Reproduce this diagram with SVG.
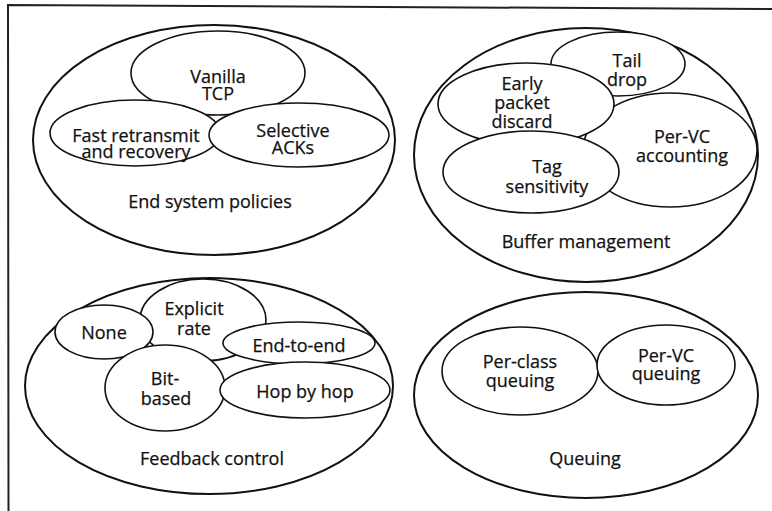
<svg xmlns="http://www.w3.org/2000/svg" width="772" height="511" viewBox="0 0 772 511">
<style>
.outer{fill:#fff;stroke:#111;stroke-width:2}
.inner{fill:#fff;stroke:#111;stroke-width:1.6}
text{font-family:"Open Sans","Liberation Sans",sans-serif;font-size:18px;font-weight:500;fill:#111;text-anchor:middle;stroke:#111;stroke-width:0.25}
.frame{stroke:#222;stroke-width:2;fill:none}
</style>
<rect width="772" height="511" fill="#fff"/>
<path class="frame" d="M8.5,511 L8,5 L772,9"/>
<g id="connectors"/>
<g id="end-system-policies">
  <ellipse class="outer" cx="214" cy="140" rx="181" ry="115"/>
  <text x="210" y="208">End system policies</text>
  <g id="vanilla-tcp">
    <ellipse class="inner" cx="218" cy="73" rx="87" ry="42"/>
    <text x="218" y="83">Vanilla<tspan x="218" dy="17">TCP</tspan></text>
  </g>
  <g id="fast-retransmit">
    <ellipse class="inner" cx="135" cy="133" rx="85" ry="33"/>
    <text x="136" y="142">Fast retransmit<tspan x="136" dy="16">and recovery</tspan></text>
  </g>
  <g id="selective-acks">
    <ellipse class="inner" cx="299" cy="135" rx="90" ry="32"/>
    <text x="293" y="137">Selective<tspan x="293" dy="17">ACKs</tspan></text>
  </g>
</g>
<g id="buffer-management">
  <ellipse class="outer" cx="586" cy="155" rx="172" ry="127"/>
  <text x="586" y="248">Buffer management</text>
  <g id="tail-drop">
    <ellipse class="inner" cx="618" cy="64" rx="67" ry="32"/>
    <text x="627" y="67">Tail<tspan x="627" dy="19">drop</tspan></text>
  </g>
  <g id="per-vc-accounting">
    <ellipse class="inner" cx="670" cy="150" rx="87" ry="57"/>
    <text x="682" y="143">Per-VC<tspan x="682" dy="19">accounting</tspan></text>
  </g>
  <g id="early-packet-discard">
    <ellipse class="inner" cx="526" cy="104" rx="88" ry="41"/>
    <text x="522" y="90">Early<tspan x="522" dy="19">packet</tspan><tspan x="522" dy="19">discard</tspan></text>
  </g>
  <g id="tag-sensitivity">
    <ellipse class="inner" cx="531" cy="172" rx="88" ry="41"/>
    <text x="547" y="173">Tag<tspan x="547" dy="20">sensitivity</tspan></text>
  </g>
</g>
<g id="feedback-control">
  <ellipse class="outer" cx="209" cy="386" rx="184" ry="108"/>
  <text x="212" y="465">Feedback control</text>
  <g id="explicit-rate">
    <ellipse class="inner" cx="203" cy="320" rx="63" ry="41"/>
    <text x="194" y="315">Explicit<tspan x="194" dy="20">rate</tspan></text>
  </g>
  <g id="none">
    <ellipse class="inner" cx="104" cy="332" rx="49" ry="27"/>
    <text x="104" y="339">None</text>
  </g>
  <g id="end-to-end">
    <ellipse class="inner" cx="299" cy="343" rx="76" ry="21"/>
    <text x="299" y="352">End-to-end</text>
  </g>
  <g id="bit-based">
    <ellipse class="inner" cx="165" cy="388" rx="60" ry="43"/>
    <text x="165" y="385">Bit-<tspan x="166" dy="20">based</tspan></text>
  </g>
  <g id="hop-by-hop">
    <ellipse class="inner" cx="305" cy="390" rx="85" ry="28"/>
    <text x="305" y="398">Hop by hop</text>
  </g>
</g>
<g id="queuing">
  <ellipse class="outer" cx="586" cy="395" rx="172" ry="103"/>
  <text x="585" y="465">Queuing</text>
  <g id="per-class-queuing">
    <ellipse class="inner" cx="520" cy="371" rx="78" ry="44"/>
    <text x="520" y="368">Per-class<tspan x="520" dy="19">queuing</tspan></text>
  </g>
  <g id="per-vc-queuing">
    <ellipse class="inner" cx="666" cy="365" rx="69" ry="40"/>
    <text x="666" y="362">Per-VC<tspan x="666" dy="18">queuing</tspan></text>
  </g>
</g>
</svg>
